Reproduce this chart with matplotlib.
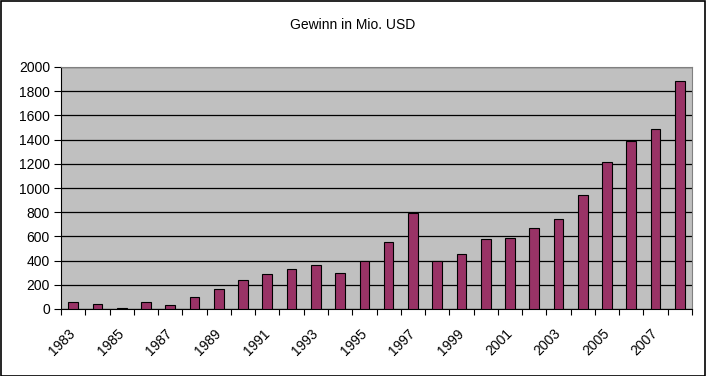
import numpy as np
import matplotlib
matplotlib.use('Agg')
import matplotlib.pyplot as plt

plt.rcParams['font.family'] = ['Liberation Sans', 'DejaVu Sans']

years = list(range(1983, 2009))
profit = [58, 41, 11, 58, 33, 99, 165, 242, 289, 331, 364, 298,
          397, 554, 796, 397, 455, 579, 587, 669, 744, 942, 1215, 1391, 1488, 1884]
title = 'Gewinn in Mio. USD'

fig = plt.figure(figsize=(7.06, 3.76), dpi=100)
ax = fig.add_axes([61/706, 1-309/376, 631/706, 242/376])

x = np.arange(len(years))
ax.set_facecolor('#C0C0C0')
ax.bar(x, profit, width=0.4, color='#993366', edgecolor='black', linewidth=0.8, zorder=3)
ax.set_xlim(-0.5, len(years)-0.5)
ax.set_ylim(0, 2000)
ax.set_yticks(np.arange(0, 2001, 200))
ax.yaxis.grid(True, color='black', linewidth=0.9, zorder=1)
ax.set_axisbelow(True)

# ticks at category boundaries, labels at every other category centre
ax.set_xticks(np.arange(-0.5, len(years), 1.0))
ax.set_xticklabels([])
ax.set_xticks(x[::2], minor=True)
ax.set_xticklabels([str(y) for y in years[::2]], minor=True, rotation=45,
                   ha='right', va='center', rotation_mode='anchor', fontsize=10)
ax.tick_params(axis='x', which='minor', length=0, pad=16)
ax.tick_params(axis='x', which='major', length=4, direction='out', color='black')
ax.tick_params(axis='y', length=5, direction='out', labelsize=10, pad=3)

for side in ['top', 'right']:
    ax.spines[side].set_color('#808080')
for side in ['left', 'bottom']:
    ax.spines[side].set_color('black')

fig.text(0.5, 1-25/376, title, ha='center', va='center', fontsize=10)
fig.patches.append(plt.Rectangle((0.001, 0.001), 0.998, 0.997, transform=fig.transFigure,
                                 fill=False, edgecolor='black', linewidth=1.2))

fig.savefig('out.png', dpi=100)
